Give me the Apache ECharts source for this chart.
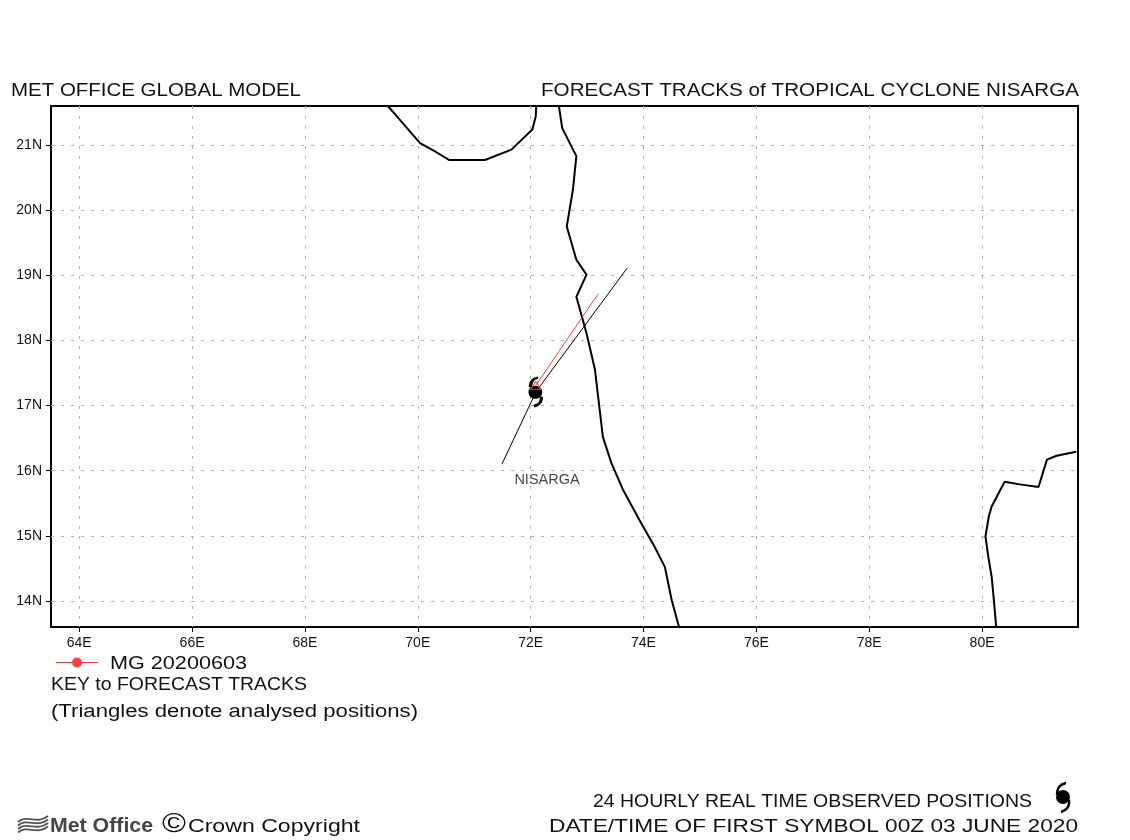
<!DOCTYPE html>
<html>
<head>
<meta charset="utf-8">
<title>Forecast tracks of tropical cyclone Nisarga</title>
<style>
  html, body { margin: 0; padding: 0; background: #fff; }
  #chart { width: 1130px; height: 840px; }
</style>
<script src="https://cdn.jsdelivr.net/npm/echarts@6/dist/echarts.min.js"></script>
</head>
<body>
<div id="chart"></div>
<script>
// 刻度（经度 / 纬度）
const lonTicks = [64, 66, 68, 70, 72, 74, 76, 78, 80]
const latTicks = [14, 15, 16, 17, 18, 19, 20, 21]

// 海岸线 [lon, lat]
const coastGujarat = [[69.47, 21.6], [69.68, 21.39], [70.04, 21.03], [70.33, 20.89], [70.56, 20.77], [71.19, 20.77], [71.66, 20.93], [72.03, 21.24], [72.09, 21.44], [72.1, 21.6]]
const coastWest = [[72.5, 21.6], [72.56, 21.26], [72.81, 20.83], [72.75, 20.32], [72.64, 19.75], [72.81, 19.24], [72.99, 19.01], [72.81, 18.67], [72.99, 18.11], [73.14, 17.55], [73.28, 16.52], [73.43, 16.12], [73.63, 15.72], [73.93, 15.24], [74.18, 14.86], [74.38, 14.52], [74.5, 14.01], [74.63, 13.6]]
const coastEast = [[80.25, 13.6], [80.21, 14.01], [80.17, 14.37], [80.11, 14.68], [80.06, 14.99], [80.12, 15.3], [80.17, 15.45], [80.4, 15.83], [80.67, 15.79], [81, 15.75], [81.15, 16.17], [81.32, 16.23], [81.67, 16.29]]

// 路径
const observedTrack = [[71.49, 16.1], [72.1, 17.22], [73.71, 19.11]]
const forecastTrack = [[72.09, 17.31], [73.2, 18.72]]
const cyclonePosition = [[72.09, 17.21]]
const analysedPosition = [[72.09, 17.31]]
const stormLabel = [[72.29, 15.85]]

const BLACK = '#000'
const RED = '#ff4040'
const GRID_GRAY = '#b0b0b0'
const TEXT_FONT = '"Liberation Sans", sans-serif'
const CYCLONE_PATH = 'M29 0 L29 7 C18 9 13 16 12 32 L2 32 C2 14 12 2 29 0 Z M1 48 A20 20 0 1 1 41 48 A20 20 0 1 1 1 48 Z M34 62 L43 62 C43 78 38 90 18 94 L16 86 C28 84 35 76 34 62 Z'

const measureCtx = document.createElement('canvas').getContext('2d')

// 原图是笔画字体，字距更宽，这里按目标宽度横向拉伸
const fitText = (text, x1, x2, yMid, fontSize, fill = '#111', weight = 'normal') => {
  const font = `${weight} ${fontSize}px ${TEXT_FONT}`
  measureCtx.font = font
  return {
    type: 'text',
    x: x1,
    y: yMid,
    scaleX: (x2 - x1) / measureCtx.measureText(text).width,
    silent: true,
    style: { text, font, fill, align: 'left', verticalAlign: 'middle' }
  }
}

const coastSeries = (data) => ({
  type: 'line',
  data,
  symbol: 'none',
  silent: true,
  lineStyle: { color: BLACK, width: 2 },
  z: 3
})

const curve = (x1, y1, cpx1, cpy1, cpx2, cpy2, x2, y2, stroke, lineWidth) => ({
  type: 'bezierCurve',
  silent: true,
  shape: { x1, y1, cpx1, cpy1, cpx2, cpy2, x2, y2 },
  style: { fill: 'none', stroke, lineWidth }
})

// Met Office 标志的波浪线
const wave = (y) => curve(18, y + 3, 27, y - 5, 37, y + 6, 48, y - 3, '#555', 1.8)

const option = {
  animation: false,
  backgroundColor: '#fff',
  grid: {
    show: true,
    left: 51,
    right: 52,
    top: 106,
    bottom: 213,
    borderColor: BLACK,
    borderWidth: 2,
    backgroundColor: 'transparent'
  },
  xAxis: {
    type: 'value',
    min: 63.5,
    max: 81.7,
    axisLine: { show: false },
    axisTick: { customValues: lonTicks, length: 5, lineStyle: { color: BLACK } },
    axisLabel: {
      customValues: lonTicks,
      formatter: (v) => `${v}E`,
      color: '#111',
      fontFamily: TEXT_FONT,
      fontSize: 14,
      margin: 9
    },
    splitLine: { show: true, lineStyle: { color: GRID_GRAY, type: [3, 7], width: 1 } }
  },
  yAxis: {
    type: 'value',
    min: 13.6,
    max: 21.6,
    axisLine: { show: false },
    axisTick: { customValues: latTicks, length: 5, lineStyle: { color: BLACK } },
    axisLabel: {
      customValues: latTicks,
      formatter: (v) => `${v}N`,
      color: '#111',
      fontFamily: TEXT_FONT,
      fontSize: 14,
      margin: 9
    },
    splitLine: { show: true, lineStyle: { color: GRID_GRAY, type: [3, 7], width: 1 } }
  },
  series: [
    coastSeries(coastGujarat),
    coastSeries(coastWest),
    coastSeries(coastEast),
    {
      type: 'line',
      data: observedTrack,
      symbol: 'none',
      silent: true,
      lineStyle: { color: BLACK, width: 1 },
      z: 4
    },
    {
      type: 'scatter',
      data: cyclonePosition,
      symbol: 'path://' + CYCLONE_PATH,
      symbolSize: [14.5, 31],
      silent: true,
      itemStyle: { color: BLACK, opacity: 1 },
      z: 5
    },
    {
      type: 'line',
      data: forecastTrack,
      symbol: 'none',
      silent: true,
      lineStyle: { color: RED, width: 1 },
      z: 6
    },
    {
      type: 'scatter',
      data: analysedPosition,
      symbol: 'triangle',
      symbolSize: [10, 8],
      silent: true,
      itemStyle: { color: 'transparent', borderColor: RED, borderWidth: 1, opacity: 1 },
      z: 7
    },
    {
      type: 'scatter',
      data: stormLabel,
      symbolSize: 1,
      silent: true,
      itemStyle: { color: 'transparent' },
      label: {
        show: true,
        position: 'inside',
        formatter: 'NISARGA',
        color: '#111',
        fontFamily: TEXT_FONT,
        fontSize: 14.5
      },
      z: 7
    }
  ],
  graphic: [
    fitText('MET OFFICE GLOBAL MODEL', 11, 301, 91, 18),
    fitText('FORECAST TRACKS of TROPICAL CYCLONE NISARGA', 541, 1079, 91, 18),
    // 图例
    { type: 'line', silent: true, shape: { x1: 56, y1: 662.5, x2: 98, y2: 662.5 }, style: { stroke: RED, lineWidth: 1 } },
    { type: 'circle', silent: true, shape: { cx: 77, cy: 662.5, r: 5 }, style: { fill: RED } },
    fitText('MG 20200603', 110, 247, 664, 18),
    fitText('KEY to FORECAST TRACKS', 51, 307, 685, 18),
    fitText('(Triangles denote analysed positions)', 51, 418, 712, 18),
    // 页脚
    wave(819), wave(822.5), wave(826), wave(829.5),
    fitText('Met Office', 50, 153, 826, 21, '#444', 'bold'),
    fitText('©', 162, 186, 825, 27),
    fitText('Crown Copyright', 188, 360, 827, 18),
    fitText('24 HOURLY REAL TIME OBSERVED POSITIONS', 593, 1032, 802, 18),
    fitText('DATE/TIME OF FIRST SYMBOL 00Z 03 JUNE 2020', 549, 1078, 827, 18),
    // 页脚的气旋符号
    { type: 'circle', silent: true, shape: { cx: 1063, cy: 797, r: 7 }, style: { fill: BLACK } },
    curve(1066, 783, 1060, 784, 1057, 788, 1057, 795, BLACK, 2.5),
    curve(1069, 800, 1070, 806, 1067, 810, 1061, 812, BLACK, 2.5)
  ]
}

const chart = echarts.init(document.getElementById('chart'))
chart.setOption(option)
</script>
</body>
</html>
